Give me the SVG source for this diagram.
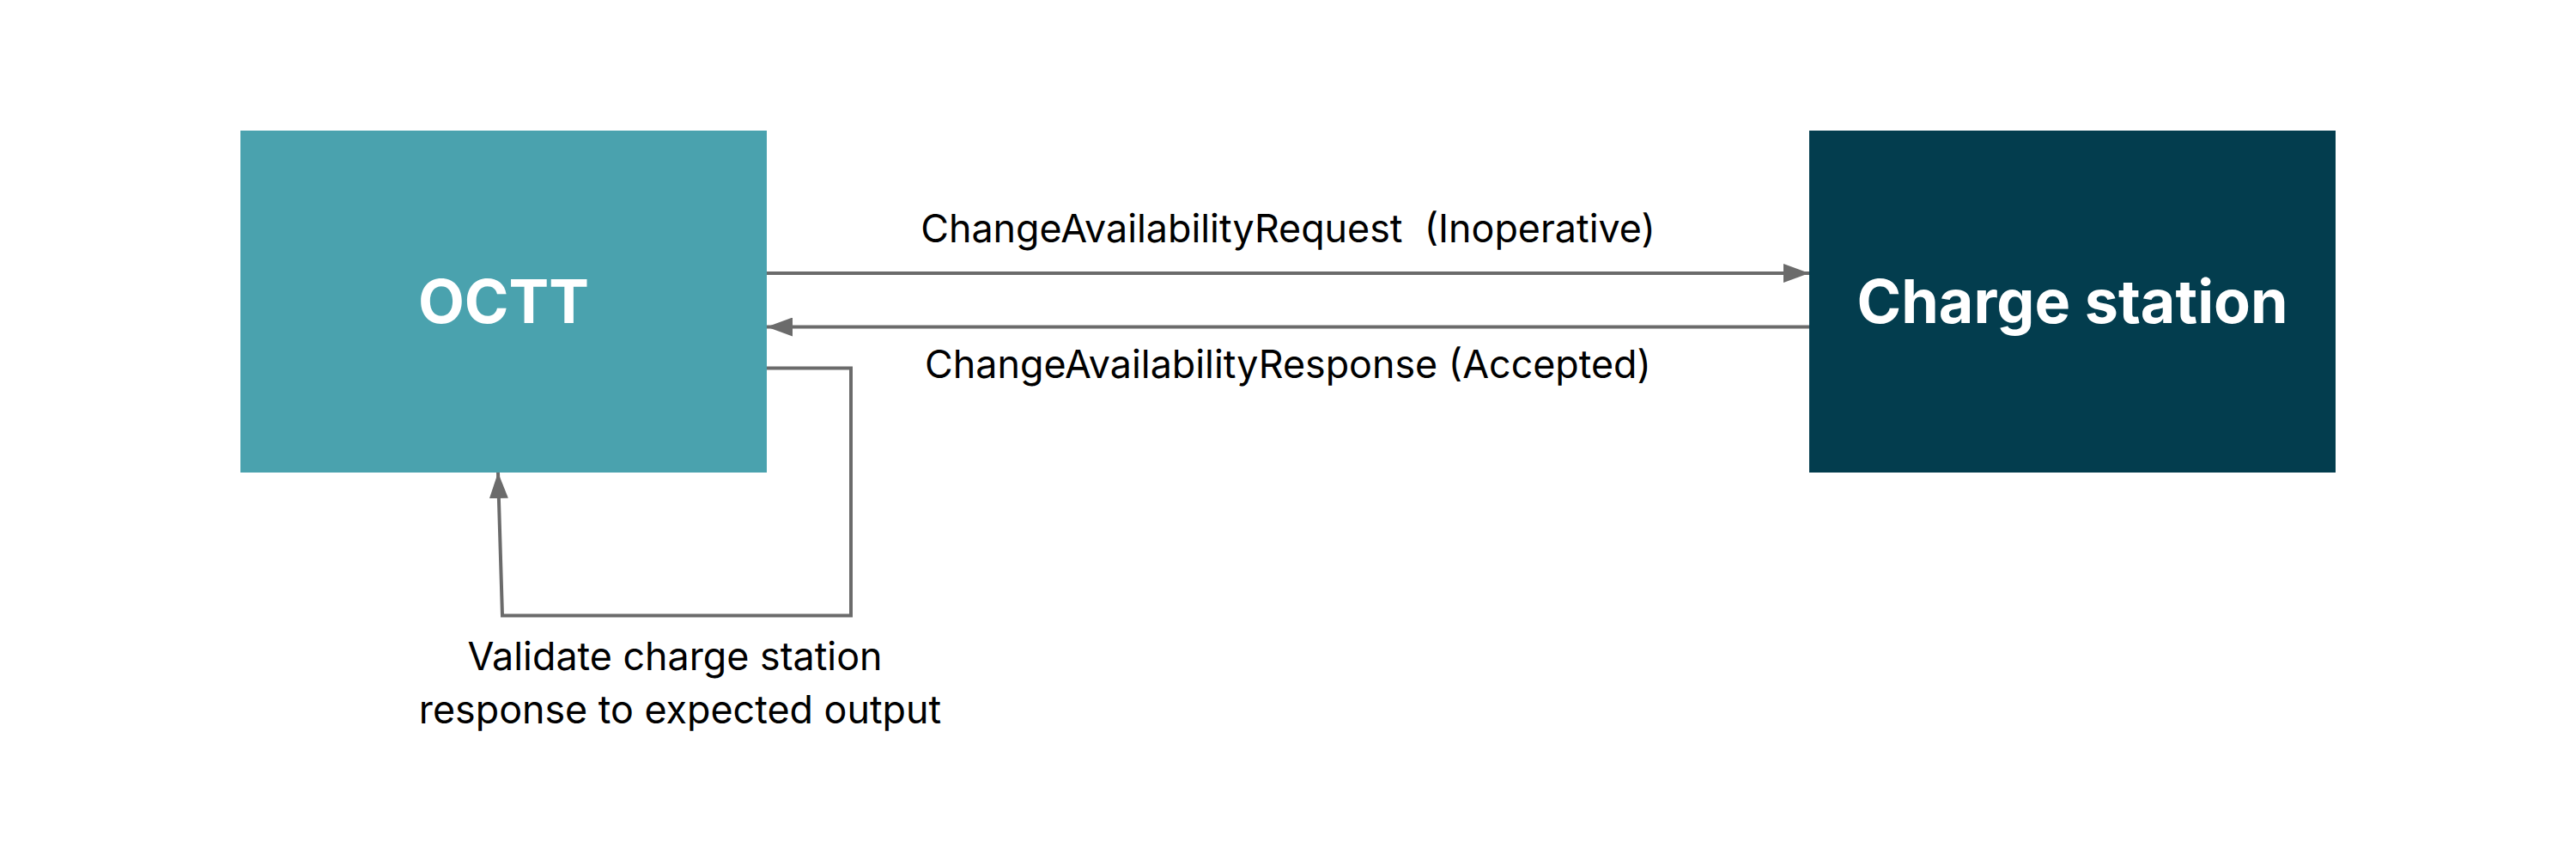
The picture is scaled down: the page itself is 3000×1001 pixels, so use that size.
<svg xmlns="http://www.w3.org/2000/svg" width="3000" height="1001" viewBox="0 0 3000 1001">
<style>
.lbl{font-family:Inter,"Noto Sans",sans-serif;font-size:44.8px;fill:#000;text-anchor:middle;white-space:pre}
.title{font-family:Inter,"Noto Sans",sans-serif;font-size:70px;font-weight:700;fill:#fff;text-anchor:middle}
.conn{fill:none;stroke:#6b6b6b;stroke-width:4}
</style>
<defs>
<marker id="ah" viewBox="0 0 30 22" refX="30" refY="11" markerWidth="30" markerHeight="22" markerUnits="userSpaceOnUse" orient="auto">
<path d="M0,0 L30,11 L0,22 Z" fill="#6b6b6b"/>
</marker>
</defs>
<rect width="3000" height="1001" fill="#fff"/>
<g id="octt">
<rect x="280" y="152" width="613" height="398" fill="#4aa2ae"/>
<text class="title" x="586.5" y="376">OCTT</text>
</g>
<g id="charge-station">
<rect x="2107" y="152" width="613" height="398" fill="#033d4e"/>
<text class="title" x="2413.5" y="376">Charge station</text>
</g>
<g id="connectors">
<line class="conn" x1="893" y1="318" x2="2107" y2="318" marker-end="url(#ah)"/>
<line class="conn" x1="2107" y1="380.5" x2="893" y2="380.5" marker-end="url(#ah)"/>
<polyline class="conn" points="893,428.5 991,428.5 991,716.5 585,716.5 580,550" marker-end="url(#ah)"/>
</g>
<g id="labels">
<text class="lbl" x="1500" y="282">ChangeAvailabilityRequest  (Inoperative)</text>
<text class="lbl" x="1500" y="440">ChangeAvailabilityResponse (Accepted)</text>
<text class="lbl" x="786" y="780">Validate charge station</text>
<text class="lbl" x="792" y="842">response to expected output</text>
</g>
</svg>
